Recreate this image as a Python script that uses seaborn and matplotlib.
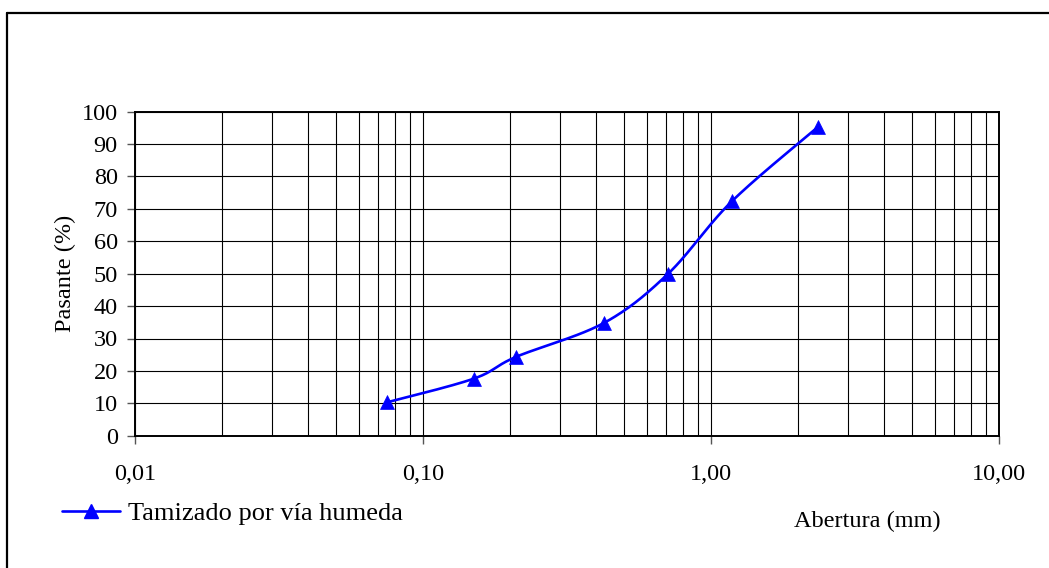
import numpy as np
import pandas as pd
import matplotlib
matplotlib.use("Agg")
import matplotlib.pyplot as plt
from matplotlib.lines import Line2D
import seaborn as sns

# Sieve openings (mm) and percent passing
abertura_mm = [0.075, 0.15, 0.21, 0.425, 0.71, 1.18, 2.36]
pasante_pct = [10.3, 17.6, 24.3, 34.8, 50.0, 72.3, 95.4]
serie = "Tamizado por vía humeda"

x_ticks = [0.01, 0.1, 1.0, 10.0]
x_tick_labels = ["0,01", "0,10", "1,00", "10,00"]
y_ticks = list(range(0, 101, 10))

sns.set_theme(style="white")
plt.rcParams["font.family"] = ["Liberation Serif", "DejaVu Serif"]

W, H = 1049, 568
fig = plt.figure(figsize=(W / 100, H / 100), dpi=100)
ax = fig.add_axes([135 / W, 1 - 435.7 / H, 864 / W, 324 / H])

df = pd.DataFrame({"abertura": abertura_mm, "pasante": pasante_pct})


def smooth_curve(xs, ys, n=40):
    """Cubic Bezier smoothing through the points, computed in display-like
    units (log x, linear y) so the curve keeps its shape on the log axis."""
    u = np.log10(np.asarray(xs, float)) / 3.0 * 864
    v = np.asarray(ys, float) / 100.0 * 324
    P = np.column_stack([u, v])
    Pext = np.vstack([P[0], P, P[-1]])
    out = []
    for i in range(len(P) - 1):
        p0, p3 = P[i], P[i + 1]
        c1 = p0 + (Pext[i + 2] - Pext[i]) / 6.0
        c2 = p3 - (Pext[i + 3] - Pext[i + 1]) / 6.0
        t = np.linspace(0, 1, n)[:, None]
        seg = ((1 - t) ** 3) * p0 + 3 * ((1 - t) ** 2) * t * c1 \
            + 3 * (1 - t) * t ** 2 * c2 + t ** 3 * p3
        out.append(seg if i == 0 else seg[1:])
    pts = np.vstack(out)
    return 10 ** (pts[:, 0] / 864 * 3.0), pts[:, 1] / 324 * 100.0


sx, sy = smooth_curve(df["abertura"], df["pasante"])
curve = pd.DataFrame({"abertura": sx, "pasante": sy})

blue = "#0000FF"
sns.lineplot(data=curve, x="abertura", y="pasante", ax=ax, color=blue,
             linewidth=1.9, sort=False, estimator=None, legend=False, zorder=3)
sns.scatterplot(data=df, x="abertura", y="pasante", ax=ax, marker="^",
                s=100, color=blue, edgecolor=blue, linewidth=0.5,
                legend=False, zorder=4)

ax.set_xscale("log")
ax.set_xlim(0.01, 10)
ax.set_ylim(0, 100)
ax.set_xticks(x_ticks)
ax.set_xticklabels(x_tick_labels)
ax.set_yticks(y_ticks)
ax.xaxis.set_minor_locator(matplotlib.ticker.LogLocator(base=10, subs=np.arange(2, 10)))
ax.xaxis.set_minor_formatter(matplotlib.ticker.NullFormatter())

ax.grid(True, which="major", axis="both", color="black", linewidth=0.8)
ax.grid(True, which="minor", axis="x", color="black", linewidth=0.8)
ax.set_axisbelow(True)

for side in ["left", "right", "top", "bottom"]:
    ax.spines[side].set_visible(True)
    ax.spines[side].set_color("black")
    ax.spines[side].set_linewidth(1.4)

ax.tick_params(axis="both", which="major", direction="out", length=5.5,
               width=1.0, color="#555555", labelsize=17.5, labelcolor="black",
               bottom=True, left=True)
ax.tick_params(axis="x", which="major", pad=15)
ax.tick_params(axis="y", which="major", pad=7)
ax.tick_params(axis="x", which="minor", length=0)

ax.set_xlabel("")
ax.set_ylabel("Pasante (%)", fontsize=17.5, color="black", labelpad=4)

fig.text(867 / W, 1 - 521 / H, "Abertura (mm)", ha="center", va="center",
         fontsize=17.5, color="black")

handle = Line2D([], [], color=blue, linewidth=1.9, marker="^",
                markersize=10, markerfacecolor=blue, markeredgecolor=blue)
fig.legend([handle], [serie], loc="center left",
           bbox_to_anchor=(62 / W, 1 - 513 / H), frameon=False,
           fontsize=19, handlelength=2.2, handletextpad=0.3, borderpad=0,
           borderaxespad=0, labelcolor="black")

# Outer chart-area border
fig.add_artist(Line2D([7 / W, 7 / W], [1 - 13 / H, -0.05], color="black",
                      linewidth=1.6, transform=fig.transFigure))
fig.add_artist(Line2D([7 / W, 1.05], [1 - 13 / H, 1 - 13 / H], color="black",
                      linewidth=1.6, transform=fig.transFigure))

fig.savefig("out.png", dpi=100, facecolor="white")
